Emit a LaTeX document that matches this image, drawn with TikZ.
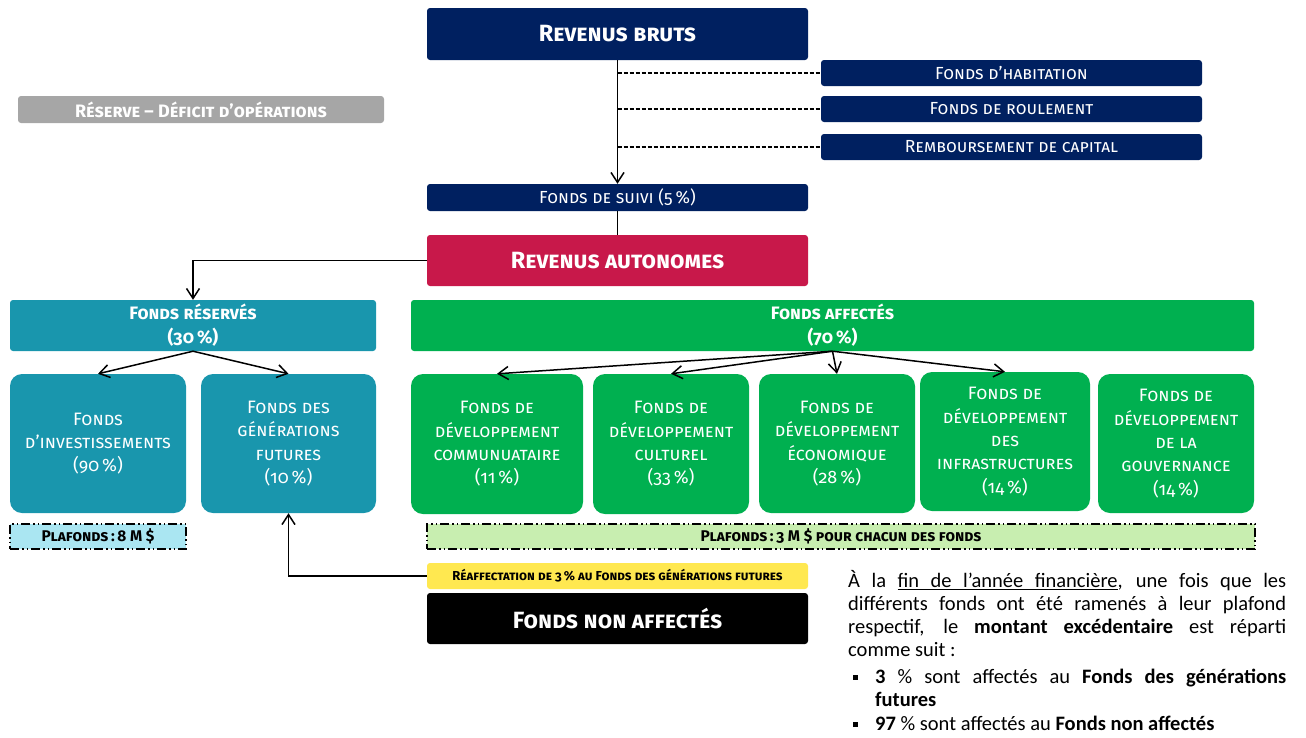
\documentclass[tikz,border=0pt]{standalone}
\usepackage{fontspec}
\setmainfont{Fira Sans}[Numbers=OldStyle]
\newfontfamily\calfont{Carlito}
\usetikzlibrary{arrows.meta}
\newcommand\ulrule{\leaders\hrule height -2.4pt depth 3.4pt}
\newcommand\uw[1]{\setbox0\hbox{#1}\rlap{\ulrule\hskip\wd0}\box0}
\newcommand\usp{\ulrule\hskip\fontdimen2\font plus\fontdimen3\font minus\fontdimen4\font\relax}
\definecolor{navy}{RGB}{0,32,96}
\definecolor{crimson}{RGB}{200,24,74}
\definecolor{teal}{RGB}{25,150,173}
\definecolor{grn}{RGB}{0,176,80}
\definecolor{gry}{RGB}{166,166,166}
\definecolor{lcyan}{RGB}{170,230,242}
\definecolor{lgreen}{RGB}{200,238,176}
\definecolor{yel}{RGB}{255,232,80}
\tikzset{
  box/.style={rectangle, rounded corners=3pt, inner sep=0pt, align=center, text=white},
  subbox/.style={box, rounded corners=12pt, font=\scshape\fontsize{18}{23.3}\selectfont},
  bigt/.style={font=\bfseries\scshape\fontsize{23.5}{26}\selectfont},
  midb/.style={font=\bfseries\scshape\fontsize{18}{24}\selectfont},
  smallt/.style={font=\scshape\fontsize{17.5}{20}\selectfont},
  plaf/.style={rectangle, inner sep=0pt, draw=black, line width=1.3pt, text=black,
    dash pattern=on 9pt off 3pt on 1.5pt off 3pt on 1.5pt off 3pt},
  arr/.style={-{Straight Barb[length=10pt,width=13pt]}, line width=1.5pt},
  con/.style={line width=1.5pt},
  dline/.style={line width=1.2pt, dash pattern=on 4pt off 2pt},
  para/.style={inner sep=0pt, anchor=base west, font=\calfont\fontsize{20.5}{23}\selectfont, text=black}
}
\begin{document}
\begin{tikzpicture}[x=1pt,y=-1pt]
\useasboundingbox (0,0) rectangle (1306,737);
% top column
\node[box, bigt, fill=navy, minimum width=381pt, minimum height=52pt] (rb) at (617.5,34) {Revenus bruts};
\node[box, smallt, fill=navy, minimum width=381pt, minimum height=26pt] (hab) at (1011.5,73) {Fonds d’habitation};
\node[box, smallt, fill=navy, minimum width=381pt, minimum height=26pt] (roul) at (1011.5,109) {Fonds de roulement};
\node[box, smallt, fill=navy, minimum width=381pt, minimum height=26pt] (remb) at (1011.5,147) {Remboursement de capital};
\node[box, smallt, fill=navy, minimum width=381pt, minimum height=27pt] (suivi) at (617.5,197.5) {Fonds de suivi (5\,\%)};
\node[box, bigt, fill=crimson, minimum width=381pt, minimum height=51pt] (auto) at (617.5,260.5) {Revenus autonomes};
\node[box, midb, fill=gry, minimum width=366pt, minimum height=27pt] (res) at (201,109.5) {Réserve – Déficit d’opérations};
% connectors top
\draw[arr] (rb.south) -- (suivi.north);
\draw[dline] (rb.south |- hab.west) -- (hab.west);
\draw[dline] (rb.south |- roul.west) -- (roul.west);
\draw[dline] (rb.south |- remb.west) -- (remb.west);
\draw[con] (suivi.south) -- (auto.north);
% reserved funds
\node[box, midb, fill=teal, minimum width=366pt, minimum height=51pt] (fres) at (193,325.5) {Fonds réservés\\(30\,\%)};
\node[subbox, fill=teal, minimum width=176pt, minimum height=139pt] (finv) at (98,443.5) {Fonds\\d’investissements\\(90\,\%)};
\node[subbox, fill=teal, minimum width=175pt, minimum height=139pt] (fgen) at (288.5,443.5) {Fonds des\\générations\\futures\\(10\,\%)};
\node[plaf, fill=lcyan, minimum width=176pt, minimum height=25pt, font=\bfseries\scshape\fontsize{15.5}{18}\selectfont] (pl8) at (98,536.5) {Plafonds\,:\,8 M \$};
\draw[arr] (auto.west) -| (fres.north);
\draw[arr] (fres.south) -- (finv.north);
\draw[arr] (fres.south) -- (fgen.north);
% assigned funds
\node[box, midb, fill=grn, minimum width=843pt, minimum height=51pt] (faff) at (832.5,325.5) {Fonds affectés\\(70\,\%)};
\node[subbox, fill=grn, minimum width=172pt, minimum height=140pt] (g1) at (497,444) {Fonds de\\développement\\communuataire\\(11\,\%)};
\node[subbox, fill=grn, minimum width=156pt, minimum height=140pt] (g2) at (671,444) {Fonds de\\développement\\culturel\\(33\,\%)};
\node[subbox, fill=grn, minimum width=156pt, minimum height=139pt] (g3) at (837,443.5) {Fonds de\\développement\\économique\\(28\,\%)};
\node[subbox, fill=grn, minimum width=170pt, minimum height=139pt] (g4) at (1005,441.5) {Fonds de\\développement\\des\\infrastructures\\(14\,\%)};
\node[subbox, fill=grn, minimum width=156pt, minimum height=139pt] (g5) at (1176,443.5) {Fonds de\\développement\\de la\\gouvernance\\(14\,\%)};
\draw[arr] (faff.south) -- (g1.north);
\draw[arr] (faff.south) -- (g2.north);
\draw[arr] (faff.south) -- (g3.north);
\draw[arr] (faff.south) -- (g4.north);
\node[plaf, fill=lgreen, minimum width=828pt, minimum height=25pt, font=\bfseries\scshape\fontsize{15.5}{18}\selectfont] (pl3) at (841,536.5) {Plafonds\,:\,3 M \$ pour chacun des fonds};
% unassigned
\node[box, fill=yel, text=black, minimum width=381pt, minimum height=26pt, font=\bfseries\scshape\fontsize{13}{15}\selectfont] (reaff) at (617.5,576) {Réaffectation de 3\,\% au Fonds des générations futures};
\node[box, bigt, fill=black, minimum width=381pt, minimum height=51pt] (fna) at (617.5,618.5) {Fonds non affectés};
\draw[arr] (reaff.west) -| (fgen.south);
% paragraph
\node[para] (p1) at (848,587) {\makebox[438pt][s]{À la \uw{fin}\usp\uw{de}\usp\uw{l’année}\usp\uw{financière}, une fois que les}};
\node[para] (p2) at (848,610) {\makebox[438pt][s]{différents fonds ont été ramenés à leur plafond}};
\node[para] (p3) at (848,633) {\makebox[438pt][s]{respectif, le \textbf{montant excédentaire} est réparti}};
\node[para] (p4) at (848,656) {comme suit :};
\node[fill=black, minimum size=5pt, inner sep=0pt] (b1) at (855,677) {};
\node[para] (p5) at (875,683) {\makebox[411pt][s]{\textbf{3} \% sont affectés au \textbf{Fonds des générations}}};
\node[para] (p6) at (875,706) {\textbf{futures}};
\node[fill=black, minimum size=5pt, inner sep=0pt] (b2) at (855,724) {};
\node[para] (p7) at (875,730) {\textbf{97} \% sont affectés au \textbf{Fonds non affectés}};
\end{tikzpicture}
\end{document}
